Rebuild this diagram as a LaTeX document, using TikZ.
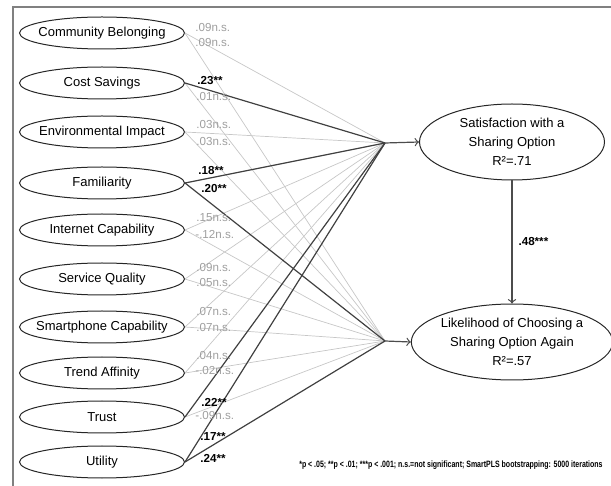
\documentclass[tikz,border=0pt]{standalone}
\usepackage{fontspec}
\setmainfont{Liberation Sans}
\usetikzlibrary{shapes.geometric}
\tikzset{
	construct/.style={draw=black!85,ellipse,line width=0.5pt,minimum width=82.5pt,minimum height=16pt,inner xsep=-4pt,inner ysep=0pt,font=\fontsize{6.5}{8}\selectfont},
	outcome/.style={construct,minimum width=92.5pt,minimum height=38pt,inner sep=0pt,align=center,font=\fontsize{6.5}{9.5}\selectfont},
	nsline/.style={draw=black!22,line width=0.35pt},
	sigline/.style={draw=black!75,line width=0.6pt},
	nslabel/.style={text=black!38,font=\fontsize{5.8}{7}\selectfont,inner sep=0pt,anchor=west},
	siglabel/.style={text=black,font=\bfseries\fontsize{5.8}{7}\selectfont,inner sep=0pt,anchor=west},
	pathway/.style={draw=black!70,line width=0.6pt,->}
}
\begin{document}
\begin{tikzpicture}[x=0.5pt,y=-0.5pt]
	\useasboundingbox (0,0) rectangle (611,486);
	\draw[black!50,line width=1pt] (13,486) -- (13,7) -- (611,7);
	% predictors
	\foreach \n/\y/\t in {cb/33/Community Belonging,cs/83/Cost Savings,ei/132/Environmental Impact,fa/183/Familiarity,ic/230/Internet Capability,sq/279/Service Quality,sc/327/Smartphone Capability,ta/373/Trend Affinity,tr/417/Trust,ut/462/Utility}
	{
		\node[construct] (\n) at (102,\y) {\t};
	}
	\node[outcome] (sat) at (512,142) {Satisfaction with a\\Sharing Option\\R²=.71};
	\node[outcome] (lik) at (512,342) {Likelihood of Choosing a\\Sharing Option Again\\R²=.57};
	\coordinate (sj) at (385,143);
	\coordinate (lj) at (385,341);
	\foreach \n/\t in {cb/sj,cb/lj,cs/lj,ei/sj,ei/lj,ic/sj,ic/lj,sq/sj,sq/lj,sc/sj,sc/lj,ta/sj,ta/lj,tr/lj}
		\draw[nsline] (\n.east) -- (\t);
	\foreach \n/\t in {cs/sj,fa/sj,fa/lj,tr/sj,ut/sj,ut/lj}
		\draw[sigline] (\n.east) -- (\t);
	\draw[pathway] (sj) -- (sat.west);
	\draw[pathway] (lj) -- (lik.west);
	\draw[pathway] (sat.south) -- (lik.north) node[midway,right=3pt,siglabel] (b) {.48***};
	% path coefficients
	\foreach \x/\y/\s/\v [count=\i] in {195/28/nslabel/.09n.s.,195/43/nslabel/.09n.s.,197/81/siglabel/.23**,196/97/nslabel/.01n.s.,196/125/nslabel/.03n.s.,196/142/nslabel/.03n.s.,198/171/siglabel/.18**,201/189/siglabel/.20**,196/218/nslabel/.15n.s.,195/235/nslabel/-.12n.s.,196/268/nslabel/.09n.s.,196/283/nslabel/.05n.s.,196/312/nslabel/.07n.s.,196/328/nslabel/.07n.s.,196/356/nslabel/.04n.s.,195/371/nslabel/-.02n.s.,201/402/siglabel/.22**,195/416/nslabel/-.09n.s.,200/437/siglabel/.17**,200/458/siglabel/.24**}
	{
		\node[\s] (c\i) at (\x,\y) {\v};
	}
	\node[anchor=east,inner sep=0pt,font=\bfseries\fontsize{4.6}{5}\selectfont] (note) at (603,465) {\scalebox{0.76}[1]{*p < .05; **p < .01; ***p < .001; n.s.=not significant; SmartPLS bootstrapping: 5000 iterations}};
\end{tikzpicture}
\end{document}
